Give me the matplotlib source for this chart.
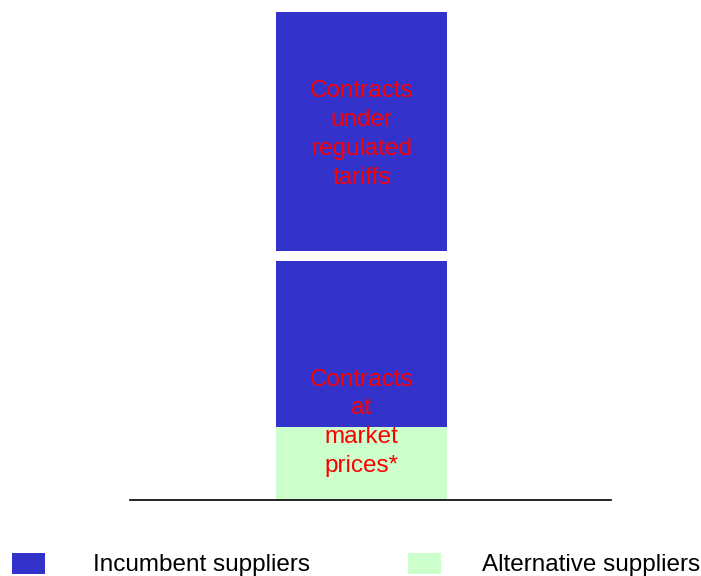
import matplotlib.pyplot as plt
from matplotlib.patches import Rectangle

# Shares of the market (%), stacked from the bottom up
segments = ['Alternative suppliers', 'Contracts at market prices*', 'Contracts under regulated tariffs']
shares = [15, 34, 49]
seg_labels = ['', 'Contracts\nat\nmarket\nprices*', 'Contracts\nunder\nregulated\ntariffs']
legend_labels = ['Incumbent suppliers', 'Alternative suppliers']

BLUE = '#3333CC'
GREEN = '#CCFFCC'
RED = '#FF0000'
GAP = 2  # white break between the two incumbent blocks
FONT = 'Liberation Sans'

fig = plt.figure(figsize=(7.01, 5.76), dpi=100)
ax = fig.add_axes([130 / 701, 1 - 500 / 576, 481 / 701, 488 / 576])

x0 = (361.5 - 130) / 481
w = 171 / 481

# green base, blue on top of it, then the regulated block after a small gap
bottoms = [0, shares[0], shares[0] + shares[1] + GAP]
colors = [GREEN, BLUE, BLUE]
for b, h, c in zip(bottoms, shares, colors):
    ax.bar(x0, h, width=w, bottom=b, color=c, edgecolor='none')

ax.text(x0, 15.8, seg_labels[1], ha='center', va='center', color=RED,
        fontsize=17.5, family=FONT, linespacing=1.4)
ax.text(x0, bottoms[2] + shares[2] / 2 - 0.6, seg_labels[2], ha='center', va='center',
        color=RED, fontsize=17.5, family=FONT, linespacing=1.4)

ax.set_xlim(0, 1)
ax.set_ylim(0, 100)
for s in ['top', 'right', 'left']:
    ax.spines[s].set_visible(False)
ax.spines['bottom'].set_linewidth(1.2)
ax.set_xticks([])
ax.set_yticks([])

# legend drawn by hand along the bottom
fig.add_artist(Rectangle((12 / 701, 2 / 576), 33 / 701, 21 / 576,
                         transform=fig.transFigure, color=BLUE, lw=0))
fig.add_artist(Rectangle((408 / 701, 2 / 576), 33 / 701, 21 / 576,
                         transform=fig.transFigure, color=GREEN, lw=0))
fig.text(93 / 701, 5 / 576, legend_labels[0], fontsize=17.5, family=FONT, va='baseline')
fig.text(482 / 701, 5 / 576, legend_labels[1], fontsize=17.5, family=FONT, va='baseline')

fig.savefig('out.png', dpi=100)
